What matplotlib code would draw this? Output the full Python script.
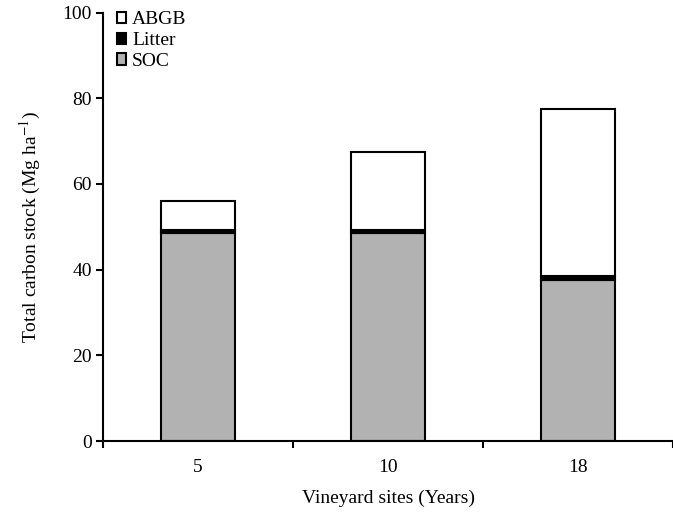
import matplotlib
matplotlib.use("Agg")
import matplotlib.pyplot as plt
import numpy as np

sites = ["5", "10", "18"]
soc = [48.5, 48.5, 37.6]
litter = [0.8, 0.8, 1.0]
abgb = [6.7, 18.1, 38.8]

plt.rcParams["font.family"] = ["Liberation Serif", "DejaVu Serif"]
plt.rcParams["mathtext.fontset"] = "stix"


def main():
    fig = plt.figure(figsize=(6.73, 5.12), dpi=100)
    ax = fig.add_axes([103 / 673, 1 - 441 / 512, 1 - 103 / 673, (441 - 12.5) / 512])

    x = np.arange(len(sites))
    w = 0.39
    kw = dict(width=w, edgecolor="black", linewidth=1.5)
    b1 = ax.bar(x, soc, color="#b2b2b2", label="SOC", **kw)
    b2 = ax.bar(x, litter, bottom=soc, color="black", label="Litter", **kw)
    bottom2 = np.array(soc) + np.array(litter)
    b3 = ax.bar(x, abgb, bottom=bottom2, color="white", label="ABGB", **kw)

    ax.set_xlim(-0.5, 2.44)
    ax.set_ylim(0, 100)
    ax.set_yticks([0, 20, 40, 60, 80, 100])
    ax.set_xticks([-0.5, 0.5, 1.5, 2.5])
    ax.set_xticklabels([])
    ax.set_xticks(x, minor=True)
    ax.set_xticklabels(sites, minor=True)
    ax.tick_params(axis="x", which="minor", length=0, pad=13, labelsize=14)
    ax.tick_params(axis="x", which="major", length=5, width=1.5)
    ax.tick_params(axis="y", length=5, width=1.5, labelsize=14, pad=3)

    for s in ["top", "right"]:
        ax.spines[s].set_visible(False)
    for s in ["left", "bottom"]:
        ax.spines[s].set_linewidth(1.5)

    ax.set_xlabel("Vineyard sites (Years)", fontsize=14, labelpad=10)
    ax.set_ylabel("Total carbon stock (Mg ha$^{-1}$)", fontsize=14, labelpad=14)

    ax.legend([b3, b2, b1], ["ABGB", "Litter", "SOC"], loc="upper left",
              bbox_to_anchor=(0.0, 1.035), frameon=False, fontsize=14,
              handlelength=0.5, handleheight=0.5, handletextpad=0.3,
              labelspacing=0.2, borderaxespad=0.3)

    fig.savefig("out.png", dpi=100)


if __name__ == "__main__":
    main()
